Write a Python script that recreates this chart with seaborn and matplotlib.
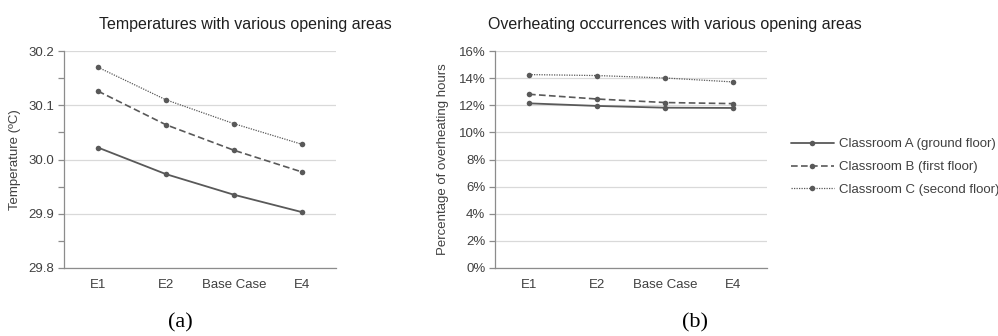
import pandas as pd
import seaborn as sns
import matplotlib.pyplot as plt
from matplotlib.ticker import MultipleLocator, FixedLocator, PercentFormatter, NullFormatter

# 데이터
cases = ['E1', 'E2', 'Base Case', 'E4']
rooms = ['Classroom A (ground floor)', 'Classroom B (first floor)', 'Classroom C (second floor)']
temp_a = [30.022, 29.973, 29.935, 29.903]
temp_b = [30.126, 30.064, 30.017, 29.977]
temp_c = [30.170, 30.110, 30.066, 30.028]
over_a = [12.14, 11.95, 11.82, 11.80]
over_b = [12.81, 12.46, 12.20, 12.12]
over_c = [14.26, 14.19, 14.01, 13.72]

def long_df(series):
    rows = []
    for room, vals in zip(rooms, series):
        for c, v in zip(cases, vals):
            rows.append({'case': c, 'room': room, 'value': v})
    return pd.DataFrame(rows)

df_temp = long_df([temp_a, temp_b, temp_c])
df_over = long_df([over_a, over_b, over_c])

sns.set_style('white')
plt.rcParams['font.family'] = ['Liberation Sans', 'DejaVu Sans']

grey = '#595959'
axis_grey = '#8c8c8c'
grid_grey = '#d9d9d9'
text_grey = '#404040'
styles = {rooms[0]: '-', rooms[1]: (0, (4, 2)), rooms[2]: (0, (1, 1))}
lw = {rooms[0]: 1.3, rooms[1]: 1.2, rooms[2]: 0.9}

fig = plt.figure(figsize=(9.98, 3.36), dpi=100)
ax1 = fig.add_axes([64 / 998, 1 - 268 / 336, 272 / 998, 217 / 336])
ax2 = fig.add_axes([495 / 998, 1 - 268 / 336, 272 / 998, 217 / 336])


def style_axes(ax):
    for s in ['top', 'right']:
        ax.spines[s].set_visible(False)
    for s in ['left', 'bottom']:
        ax.spines[s].set_color(axis_grey)
        ax.spines[s].set_linewidth(0.9)
    ax.set_xlim(-0.5, len(cases) - 0.5)
    # Excel style: tick marks between categories, labels centred
    ax.xaxis.set_major_locator(FixedLocator([i - 0.5 for i in range(len(cases) + 1)]))
    ax.xaxis.set_major_formatter(NullFormatter())
    ax.set_xticks(range(len(cases)), labels=cases, minor=True)
    ax.tick_params(axis='x', which='major', length=4, color=axis_grey, width=0.9)
    ax.tick_params(axis='x', which='minor', length=0, pad=8, labelsize=9.5, labelcolor=text_grey)
    ax.tick_params(axis='y', which='both', length=4, color=axis_grey, width=0.9, labelsize=9.5,
                   labelcolor=text_grey, left=True, direction='out', pad=3)
    ax.grid(axis='y', which='major', color=grid_grey, linewidth=0.9)
    ax.set_axisbelow(True)
    ax.set_xlabel('')


for ax, df in [(ax1, df_temp), (ax2, df_over)]:
    for room in rooms:
        sub = df[df['room'] == room]
        sns.lineplot(data=sub, x='case', y='value', ax=ax, color=grey, linewidth=lw[room],
                     marker='o', markersize=4, markeredgewidth=0, linestyle=styles[room],
                     label=room, legend=False, sort=False)
    style_axes(ax)

ax1.set_ylim(29.8, 30.2)
ax1.yaxis.set_major_locator(MultipleLocator(0.1))
ax1.yaxis.set_minor_locator(MultipleLocator(0.05))
ax1.yaxis.set_major_formatter(lambda v, p: f'{v:.1f}')
ax1.set_ylabel('Temperature (ºC)', color=text_grey, fontsize=9.5)
ax1.yaxis.set_label_coords(-0.158, 0.5)
ax1.set_title('Temperatures with various opening areas', color='#202020', fontsize=11.5, pad=16, x=0.665)

ax2.set_ylim(0, 16)
ax2.yaxis.set_major_locator(MultipleLocator(2))
ax2.yaxis.set_major_formatter(PercentFormatter(decimals=0))
ax2.set_ylabel('Percentage of overheating hours', color=text_grey, fontsize=9.5)
ax2.yaxis.set_label_coords(-0.17, 0.5)
ax2.set_title('Overheating occurrences with various opening areas', color='#202020', fontsize=11.5,
              pad=16, x=0.66)

handles, labels = ax2.get_legend_handles_labels()
fig.legend(handles, labels, loc='center left', bbox_to_anchor=(779 / 998, 1 - 167 / 336), frameon=False,
           fontsize=9.5, labelcolor=text_grey, handlelength=3.25, handletextpad=0.4, labelspacing=0.8)

fig.text(180 / 998, 1 - 323 / 336, '(a)', family=['Liberation Serif', 'DejaVu Serif'], fontsize=16,
         ha='center', va='center', color='black')
fig.text(695 / 998, 1 - 323 / 336, '(b)', family=['Liberation Serif', 'DejaVu Serif'], fontsize=16,
         ha='center', va='center', color='black')

fig.savefig('out.png', dpi=100)
